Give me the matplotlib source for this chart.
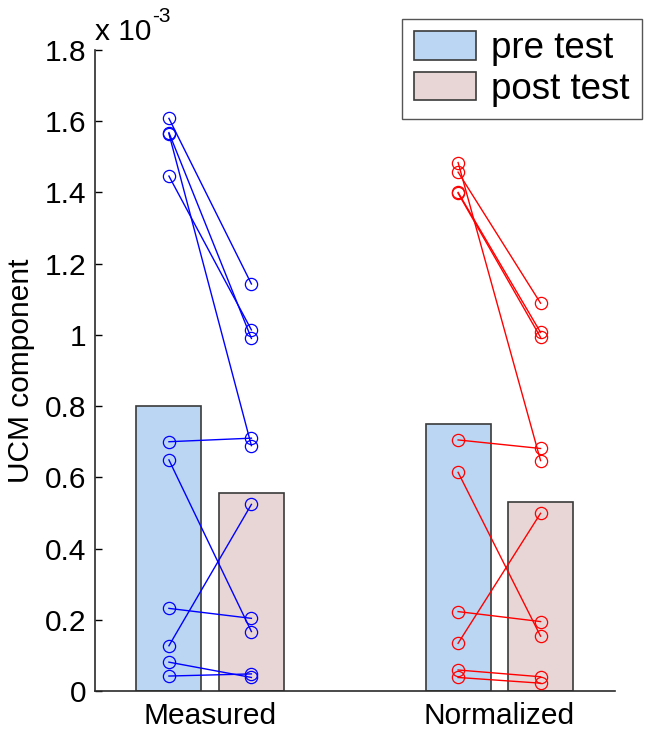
import matplotlib
matplotlib.use("Agg")
import matplotlib.pyplot as plt
import matplotlib.ticker as mticker
from matplotlib.patches import Patch
import numpy as np

plt.rcParams['font.family'] = ['Liberation Sans', 'DejaVu Sans']

# ---- data (values in units of 1e-3) ----
groups = ["Measured", "Normalized"]
conditions = ["pre test", "post test"]

bar_pre = [0.800, 0.751]
bar_post = [0.555, 0.532]

measured_pre = [1.608, 1.568, 1.565, 1.446, 0.700, 0.649, 0.232, 0.127, 0.081, 0.042]
measured_post = [1.143, 0.990, 0.689, 1.014, 0.710, 0.167, 0.204, 0.524, 0.038, 0.048]

normalized_pre = [1.484, 1.457, 1.400, 1.398, 0.705, 0.614, 0.223, 0.134, 0.059, 0.038]
normalized_post = [0.647, 1.089, 1.007, 0.993, 0.681, 0.154, 0.195, 0.499, 0.040, 0.022]

yticks = [0, 0.2, 0.4, 0.6, 0.8, 1.0, 1.2, 1.4, 1.6, 1.8]
scale = 1e-3

# ---- styling ----
pre_color = "#BBD6F2"
post_color = "#E8D6D6"
edge_color = "#3a3a3a"
line_colors = ["#0000FF", "#FF0000"]

W, H = 648, 731
fig = plt.figure(figsize=(W / 100, H / 100), dpi=100)
ax = fig.add_axes([94.5 / W, (H - 691) / H, (615 - 94.5) / W, (691 - 50) / H])

xpos = np.arange(1, len(groups) + 1)
offset = 0.1426
bw = 0.225

ax.bar(xpos - offset, np.array(bar_pre) * scale, width=bw, color=pre_color,
       edgecolor=edge_color, linewidth=1.2, zorder=1)
ax.bar(xpos + offset, np.array(bar_post) * scale, width=bw, color=post_color,
       edgecolor=edge_color, linewidth=1.2, zorder=1)

series = [(measured_pre, measured_post), (normalized_pre, normalized_post)]
for gi, (pre, post) in enumerate(series):
    xg = xpos[gi]
    for a, b in zip(pre, post):
        ax.plot([xg - offset, xg + offset], [a * scale, b * scale], '-o',
                color=line_colors[gi], mfc='none', mec=line_colors[gi],
                markersize=8.8, mew=0.9, linewidth=1.0, zorder=3)

ax.set_xlim(0.6, 2.4)
ax.set_ylim(0, 1.8 * scale)
ax.set_xticks(xpos)
ax.set_xticklabels(groups, fontsize=21.5)
ax.set_yticks(np.array(yticks) * scale)
ax.yaxis.set_major_formatter(mticker.FuncFormatter(lambda v, p: "%g" % round(v / scale, 3)))
ax.tick_params(axis='y', direction='in', length=5, width=1, labelsize=21.5, pad=6)
ax.tick_params(axis='x', length=0, pad=8)
for s in ['top', 'right']:
    ax.spines[s].set_visible(False)
for s in ['left', 'bottom']:
    ax.spines[s].set_linewidth(1.2)
    ax.spines[s].set_color('#2a2a2a')

ax.set_ylabel("UCM component", fontsize=21.5, labelpad=7)

fig.text(95 / W, 1 - 40 / H, "x 10", fontsize=21.5, va='baseline', ha='left')
fig.text(152 / W, 1 - 22 / H, "-3", fontsize=15, va='baseline', ha='left')

handles = [Patch(facecolor=pre_color, edgecolor=edge_color, linewidth=1.2),
           Patch(facecolor=post_color, edgecolor=edge_color, linewidth=1.2)]
leg = fig.legend(handles, conditions, loc='upper left',
                 bbox_to_anchor=(402 / W, 1 - 19 / H), fontsize=26.5,
                 frameon=True, fancybox=False, framealpha=1,
                 edgecolor='#555555', handlelength=1.67, handleheight=0.82,
                 handletextpad=0.42, labelspacing=0.15, borderpad=0.33,
                 borderaxespad=0)
leg.get_frame().set_linewidth(1.0)

fig.savefig("out.png", dpi=100)
